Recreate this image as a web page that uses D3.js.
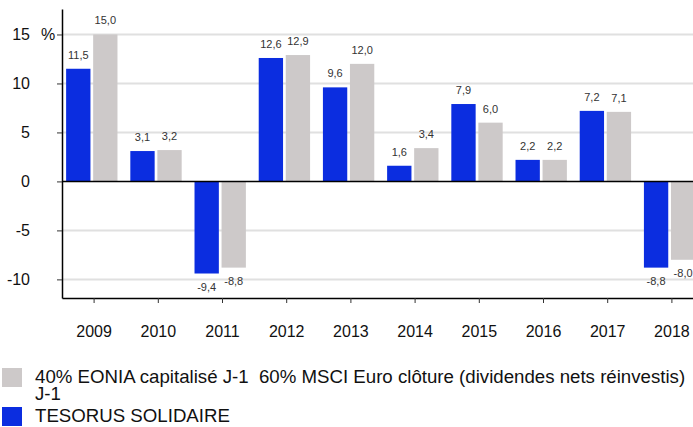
<!DOCTYPE html>
<html>
<head>
<meta charset="utf-8">
<script src="https://cdn.jsdelivr.net/npm/d3@7.9.0/dist/d3.min.js"></script>
<style>
  html, body { margin: 0; padding: 0; background: #fff; }
  svg { display: block; font-family: "Liberation Sans", Arial, sans-serif; }
</style>
</head>
<body>
<svg id="chart" width="693" height="427"></svg>
<script>
// values
const years = ['2009', '2010', '2011', '2012', '2013', '2014', '2015', '2016', '2017', '2018'];
const fundValues = [11.5, 3.1, -9.4, 12.6, 9.6, 1.6, 7.9, 2.2, 7.2, -8.8];
const benchValues = [15.0, 3.2, -8.8, 12.9, 12.0, 3.4, 6.0, 2.2, 7.1, -8.0];
const seriesNames = ['TESORUS SOLIDAIRE', '40% EONIA capitalisé J-1  60% MSCI Euro clôture (dividendes nets réinvestis) J-1'];
const yTicks = [15, 10, 5, 0, -5, -10];

const blue = '#0b2de0';
const grey = '#cdc9c9';

const svg = d3.select('#chart');

const y = d3.scaleLinear().domain([-11.9, 17.6]).range([298, 9]);
const xAxisScale = d3.scaleBand().domain(years).range([62, 704]);
const x0 = d3.scaleBand().domain(years).range([59.7, 701.7]).paddingInner(0.2).paddingOuter(0.1);
const x1 = d3.scaleBand().domain(['fund', 'bench']).range([0, x0.bandwidth()]).paddingInner(0.1);

const fmt = (v) => d3.format('.1f')(v).replace('.', ',').replace('−', '-');

// grid lines
svg.append('g')
  .selectAll('line')
  .data(yTicks.filter((t) => t !== 0))
  .join('line')
  .attr('x1', 62)
  .attr('x2', 693)
  .attr('y1', (d) => y(d))
  .attr('y2', (d) => y(d))
  .attr('stroke', '#e0e0e0')
  .attr('stroke-width', 2);

// bars
const rows = years.map((yr, i) => ({ year: yr, fund: fundValues[i], bench: benchValues[i] }));
const groups = svg.append('g')
  .selectAll('g')
  .data(rows)
  .join('g')
  .attr('transform', (d) => `translate(${x0(d.year)},0)`);

const keys = [['fund', blue], ['bench', grey]];
keys.forEach(([key, color]) => {
  groups.append('rect')
    .attr('x', x1(key))
    .attr('width', x1.bandwidth())
    .attr('y', (d) => y(Math.max(0, d[key])))
    .attr('height', (d) => Math.abs(y(d[key]) - y(0)))
    .attr('fill', color);

  groups.append('text')
    .attr('x', x1(key) + x1.bandwidth() / 2)
    .attr('y', (d) => (d[key] >= 0 ? y(d[key]) - 10 : y(d[key]) + 17))
    .attr('text-anchor', 'middle')
    .attr('font-size', 11)
    .attr('fill', '#333')
    .text((d) => fmt(d[key]));
});

// zero line
svg.append('line')
  .attr('x1', 62)
  .attr('x2', 693)
  .attr('y1', y(0))
  .attr('y2', y(0))
  .attr('stroke', '#000')
  .attr('stroke-width', 1.5);

// y axis
const yAxis = svg.append('g')
  .attr('transform', 'translate(62,0)')
  .call(d3.axisLeft(y).tickValues(yTicks).tickSize(5).tickSizeOuter(0).tickPadding(27).tickFormat((d) => String(d).replace('−', '-')));
yAxis.attr('font-family', null);
yAxis.select('.domain').attr('stroke', '#000').attr('stroke-width', 1.5);
yAxis.selectAll('.tick line').attr('stroke', '#333');
yAxis.selectAll('.tick text').attr('font-size', 16).attr('fill', '#111');

svg.append('text')
  .attr('x', 41)
  .attr('y', y(15))
  .attr('dy', '0.35em')
  .attr('font-size', 16)
  .attr('fill', '#111')
  .text('%');

// x axis
const xAxis = svg.append('g')
  .attr('transform', 'translate(0,298)')
  .call(d3.axisBottom(xAxisScale).tickSize(5).tickSizeOuter(0).tickPadding(22.6));
xAxis.attr('font-family', null);
xAxis.select('.domain').attr('stroke', '#000').attr('stroke-width', 1.5);
xAxis.selectAll('.tick line').attr('stroke', '#333');
xAxis.selectAll('.tick text').attr('font-size', 16).attr('fill', '#111');

// legend
const legendItems = [
  { name: seriesNames[1], color: grey },
  { name: seriesNames[0], color: blue },
];
const maxWidth = 653;
let lineY = 383;
legendItems.forEach((item) => {
  svg.append('rect')
    .attr('x', 2)
    .attr('y', lineY - 15)
    .attr('width', 20)
    .attr('height', 19)
    .attr('fill', item.color);

  const text = svg.append('text')
    .attr('x', 35)
    .attr('y', lineY)
    .attr('font-size', 18.67)
    .attr('fill', '#111')
    .style('white-space', 'pre');

  const words = item.name.split(' ');
  let tspan = text.append('tspan').attr('x', 35).attr('y', lineY);
  let line = [];
  words.forEach((w) => {
    line.push(w);
    tspan.text(line.join(' '));
    if (tspan.node().getComputedTextLength() > maxWidth && line.length > 1) {
      line.pop();
      tspan.text(line.join(' ').trimEnd());
      line = [w];
      lineY += 17;
      tspan = text.append('tspan').attr('x', 35).attr('y', lineY).text(w);
    }
  });
  lineY += 22;
});
</script>
</body>
</html>
